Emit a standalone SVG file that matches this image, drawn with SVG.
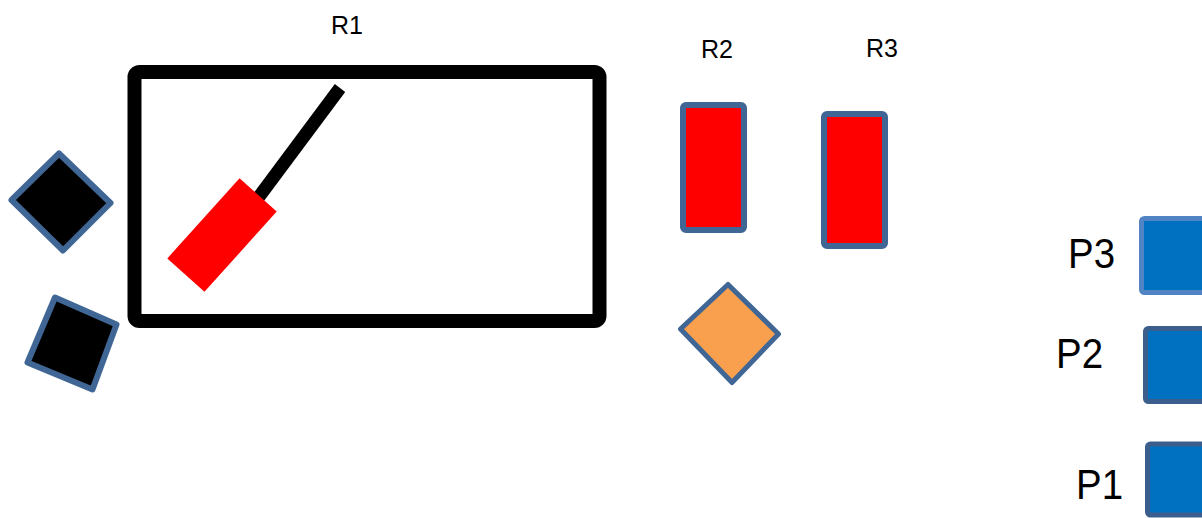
<svg xmlns="http://www.w3.org/2000/svg" width="1202" height="518" viewBox="0 0 1202 518">
<style>
.lbl{font-family:"Liberation Sans",Arial,sans-serif;fill:#000}
.sm{font-size:25px}
.lg{font-size:42px}
.blk{fill:#000;stroke:#3F6695;stroke-width:6;stroke-linejoin:round}
.red{fill:#FF0000;stroke:#3F6695;stroke-width:6;stroke-linejoin:round}
.org{fill:#F9A04E;stroke:#3F6695;stroke-width:5;stroke-linejoin:round}
.pb{fill:#0070C0;stroke-width:5;stroke-linejoin:round}
</style>
<rect width="1202" height="518" fill="#fff"/>
<g id="R1">
<rect x="134.5" y="72" width="465" height="249" rx="5" fill="none" stroke="#000" stroke-width="14"/>
<line x1="340" y1="88" x2="258" y2="198" stroke="#000" stroke-width="13"/>
<rect x="-25" y="-54" width="50" height="108" fill="#FF0000" transform="translate(222,235) rotate(42)"/>
<text class="lbl sm" x="347" y="34" text-anchor="middle">R1</text>
</g>
<g id="blk1"><polygon class="blk" points="59,153.5 110.5,203 63,250.5 11.5,200"/></g>
<g id="blk2"><polygon class="blk" points="55,297.5 116.5,324.5 92.5,389.5 27.5,362.5"/></g>
<g id="R2">
<rect class="red" x="683" y="105" width="61" height="125" rx="3"/>
<text class="lbl sm" x="717" y="58" text-anchor="middle">R2</text>
</g>
<g id="R3">
<rect class="red" x="824" y="114" width="61" height="132" rx="3"/>
<text class="lbl sm" x="882" y="57" text-anchor="middle">R3</text>
</g>
<g id="orange"><polygon class="org" points="728,284.5 778.5,334 732,382.5 680.5,329"/></g>
<g id="P3">
<rect class="pb" x="1141.5" y="218.5" width="80" height="74" rx="3" stroke="#4F83C3"/>
<text class="lbl lg" x="1068" y="268" textLength="47" lengthAdjust="spacingAndGlyphs">P3</text>
</g>
<g id="P2">
<rect class="pb" x="1145.5" y="328.5" width="80" height="73" rx="3" stroke="#3B5E8C"/>
<text class="lbl lg" x="1056" y="368" textLength="47" lengthAdjust="spacingAndGlyphs">P2</text>
</g>
<g id="P1">
<rect class="pb" x="1147.5" y="444" width="80" height="71" rx="3" stroke="#3B5E8C"/>
<text class="lbl lg" x="1076" y="499" textLength="47" lengthAdjust="spacingAndGlyphs">P1</text>
</g>
<g id="connectors"></g>
</svg>
